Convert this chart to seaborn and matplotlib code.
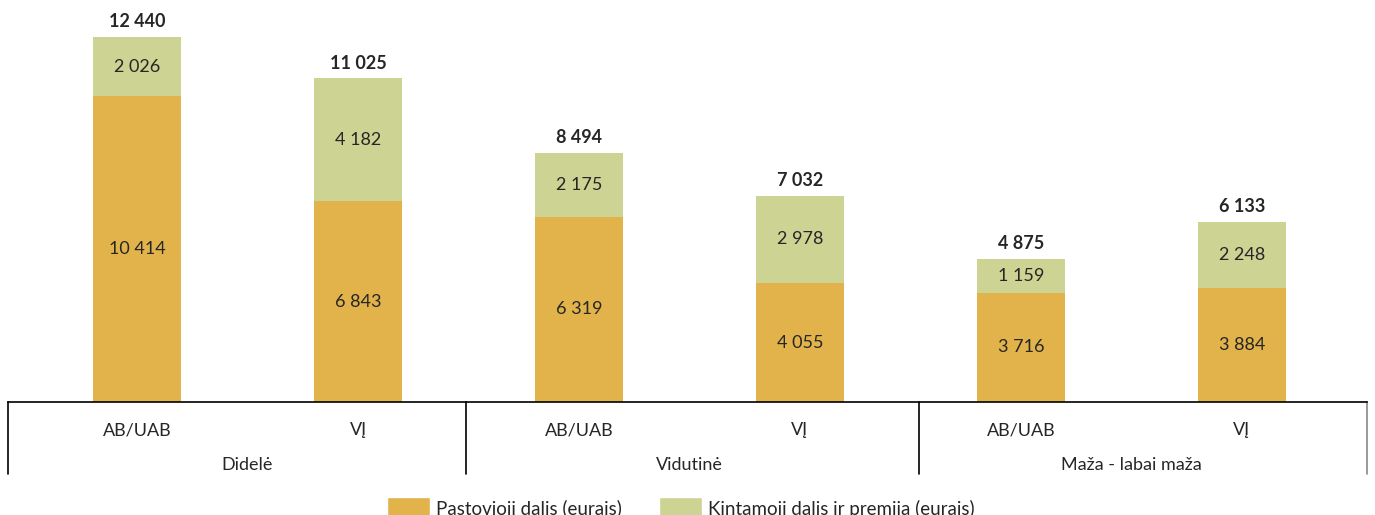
import pandas as pd
import matplotlib.pyplot as plt
import matplotlib.transforms as mtransforms
from matplotlib.patches import Patch
import seaborn as sns

# Dados
grupos = ["Didelė", "Vidutinė", "Maža - labai maža"]
tipos = ["AB/UAB", "VĮ", "AB/UAB", "VĮ", "AB/UAB", "VĮ"]
pastovioji = [10414, 6843, 6319, 4055, 3716, 3884]
kintamoji = [2026, 4182, 2175, 2978, 1159, 2248]
viso = [12440, 11025, 8494, 7032, 4875, 6133]

COR_PAST = "#E2B34A"
COR_KINT = "#CCD393"


def fmt(v):
    return f"{v:,}".replace(",", " ")


def gerar_grafico():
    sns.set_style("white")
    plt.rcParams["font.family"] = ["Lato", "DejaVu Sans"]

    df = pd.DataFrame({
        "pos": [str(i) for i in range(len(tipos))],
        "pastovioji": pastovioji,
        "kintamoji": kintamoji,
    })
    df["soma"] = df["pastovioji"] + df["kintamoji"]

    fig = plt.figure(figsize=(13.75, 5.15), dpi=100)
    ax = fig.add_axes([8 / 1375, 113 / 515, 1359 / 1375, 402 / 515])

    sns.barplot(data=df, x="pos", y="soma", color=COR_KINT, width=0.4,
                saturation=1, linewidth=0, ax=ax)
    sns.barplot(data=df, x="pos", y="pastovioji", color=COR_PAST, width=0.4,
                saturation=1, linewidth=0, ax=ax)

    ax.set_xlim(-0.584, 5.566)
    ax.set_ylim(0, 13700)

    for i in range(len(tipos)):
        p, k = pastovioji[i], kintamoji[i]
        ax.text(i, p / 2, fmt(p), ha="center", va="center", fontsize=13)
        ax.text(i, p + k / 2, fmt(k), ha="center", va="center", fontsize=13)
        ax.annotate(fmt(viso[i]), (i, p + k), xytext=(0, 5),
                    textcoords="offset points", ha="center", va="bottom",
                    fontsize=13, fontweight="bold")

    # eixo com duas linhas de rótulos
    ax.set_xticks([])
    ax.set_yticks([])
    ax.set_xlabel("")
    ax.set_ylabel("")
    for s in ["top", "left", "right"]:
        ax.spines[s].set_visible(False)
    ax.spines["bottom"].set_color("black")
    ax.spines["bottom"].set_linewidth(1.2)

    trans = mtransforms.blended_transform_factory(ax.transData, ax.transAxes)
    for i, t in enumerate(tipos):
        ax.text(i, -0.07, t, transform=trans, ha="center", va="center",
                fontsize=13)
    for g, nome in enumerate(grupos):
        ax.text(2 * g + 0.5, -0.157, nome, transform=trans, ha="center",
                va="center", fontsize=13)
    for xs in [-0.584, 1.49, 3.537, 5.566]:
        cor = "#888888" if xs > 5 else "black"
        ax.plot([xs, xs], [0, -0.18], transform=trans, color=cor, lw=1.2,
                clip_on=False)

    handles = [Patch(facecolor=COR_PAST), Patch(facecolor=COR_KINT)]
    fig.legend(handles, ["Pastovioji dalis (eurais)",
                         "Kintamoji dalis ir premija (eurais)"],
               loc="upper left", bbox_to_anchor=(374 / 1375, 31 / 515),
               ncol=2, frameon=False, fontsize=13.5, handlelength=2.3,
               handleheight=1.5, columnspacing=2.0, handletextpad=0.3,
               borderpad=0.2)

    fig.savefig("out.png", dpi=100)


if __name__ == "__main__":
    gerar_grafico()
